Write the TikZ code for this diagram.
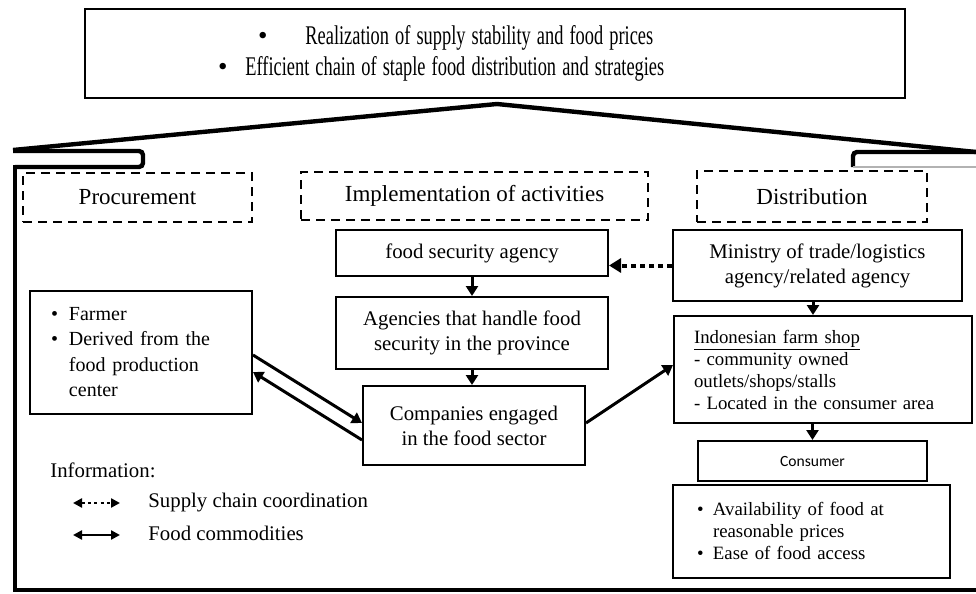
\documentclass[tikz,border=0pt]{standalone}
\usepackage{fontspec}
\setmainfont{Liberation Serif}
\setsansfont{Carlito}
\usetikzlibrary{arrows.meta,calc}

\newcommand{\bulitem}[1]{\makebox[#1][l]{\textbullet}}
\newcommand{\bulgap}[1]{\hspace*{#1}}

\tikzset{
  box/.style={draw, line width=1pt, inner sep=0pt, align=center, font=\fontsize{10.4}{12.5}\selectfont},
  hdr/.style={draw, line width=1pt, dash pattern=on 4.5pt off 3pt, inner sep=0pt, font=\fontsize{11.5}{13}\selectfont},
  wall/.style={line width=2.2pt, line join=miter},
  flow/.style={line width=1.5pt, -{Triangle[width=6pt,length=5pt]}},
  coord/.style={line width=2pt, dash pattern=on 2.5pt off 2pt, -{Triangle[width=7pt,length=6pt]}},
  legtext/.style={anchor=west, inner sep=0pt, font=\fontsize{10.4}{12}\selectfont},
}

\begin{document}
\begin{tikzpicture}[x=0.5pt,y=0.5pt,yscale=-1,xscale=1]
  \useasboundingbox (0,0) rectangle (976,594);

  %Shape: Rectangle [goal]
  \node[box, text width=410pt, minimum height=44.5pt, align=left, font=\fontsize{13.5}{15.5}\selectfont] (goal) at (495,53.5)
    {\bulgap{86.5pt}\textbullet\bulgap{19pt}\scalebox{0.68}[1]{Realization of supply stability and food prices}\\
     \bulgap{66.5pt}\textbullet\bulgap{9pt}\scalebox{0.68}[1]{Efficient chain of staple food distribution and strategies}};

  %Roof and walls
  \draw[wall, line join=round] (13,150) -- (497,104) -- (976,152);
  \draw[wall, rounded corners=2pt] (13,151) -- (143,151) -- (143,167) -- (15,167);
  \draw[wall] (13,167) -- (15,167) -- (15,590) -- (976,590);
  \draw[wall, rounded corners=2pt] (976,152) -- (853,152) -- (853,167);
  \draw[gray!60, line width=0.6pt] (853,167) -- (976,167);

  %Dashed headers
  \node[hdr, minimum width=114.5pt, minimum height=24.5pt] (proc) at (137.5,197.5) {Procurement};
  \node[hdr, minimum width=173.5pt, minimum height=24pt] (impl) at (474.5,196) {Implementation of activities};
  \node[hdr, minimum width=115pt, minimum height=25.5pt] (dist) at (812,196.5) {Distribution};

  %Middle column
  \node[box, minimum width=136pt, minimum height=23pt] (fsa) at (472,253) {food security agency};
  \node[box, minimum width=136pt, minimum height=36pt] (prov) at (472,333) {Agencies that handle food\\security in the province};
  \node[box, minimum width=111pt, minimum height=39.5pt] (comp) at (474,425.5) {Companies engaged\\in the food sector};

  %Left column
  \node[box, text width=90pt, inner xsep=10.5pt, minimum height=61.5pt, align=left, font=\fontsize{10}{12.6}\selectfont] (farmer) at (141,352)
    {\bulitem{9pt}Farmer\\ \bulitem{9pt}Derived from the\\ \bulgap{9pt}food production\\ \bulgap{9pt}center};

  %Right column
  \node[box, minimum width=144.5pt, minimum height=35.5pt] (ministry) at (817.5,265.5) {Ministry of trade/logistics\\agency/related agency};
  \node[box, text width=129pt, inner xsep=10pt, minimum height=53.5pt, align=left, font=\fontsize{9.4}{11}\selectfont] (shop) at (823,369.5)
    {\underline{Indonesian farm shop}\\- community owned\\outlets/shops/stalls\\- Located in the consumer area};
  \node[box, minimum width=114.5pt, minimum height=20pt, font=\sffamily\fontsize{7.8}{8.5}\selectfont] (consumer) at (812.5,461) {Consumer};
  \node[box, text width=114.5pt, inner xsep=12pt, minimum height=46.5pt, align=left, font=\fontsize{9.4}{11}\selectfont] (outcome) at (811.5,531)
    {\bulitem{8pt}Availability of food at\\ \bulgap{8pt}reasonable prices\\ \bulitem{8pt}Ease of food access};

  %Connectors
  \draw[flow] (fsa.south) -- (prov.north);
  \draw[flow] (prov.south) -- (prov.south |- comp.north);
  \draw[flow] ($(farmer.east)+(0,3)$) -- ($(comp.west)+(0,-2.5)$);
  \draw[flow] ($(comp.west)+(0,14.5)$) -- ($(farmer.east)+(0,20)$);
  \draw[flow] ($(comp.east)+(0,-2.5)$) -- ($(shop.west)+(0,-4.5)$);
  \draw[coord] (ministry.west) -- (fsa.east |- ministry.west);
  \draw[flow] ($(ministry.south)+(-4.5,0)$) -- ($(shop.north)+(-10,0)$);
  \draw[flow] (shop.south -| consumer.north) -- (consumer.north);

  %Legend
  \node[legtext] (info) at (50,470) {Information:};
  \coordinate (ca) at (73,503);
  \coordinate (cb) at (120,503);
  \coordinate (fa) at (73,535);
  \coordinate (fb) at (120,535);
  \draw[line width=1.3pt, dash pattern=on 1.6pt off 1.6pt, {Triangle[width=4.5pt,length=4.5pt]}-{Triangle[width=4.5pt,length=4.5pt]}] (ca) -- (cb);
  \draw[line width=1.3pt, {Triangle[width=4.5pt,length=4.5pt]}-{Triangle[width=4.5pt,length=4.5pt]}] (fa) -- (fb);
  \node[legtext] (lcoord) at (148,503) {Supply chain coordination};
  \node[legtext] (lfood) at (148,533) {Food commodities};
\end{tikzpicture}
\end{document}
